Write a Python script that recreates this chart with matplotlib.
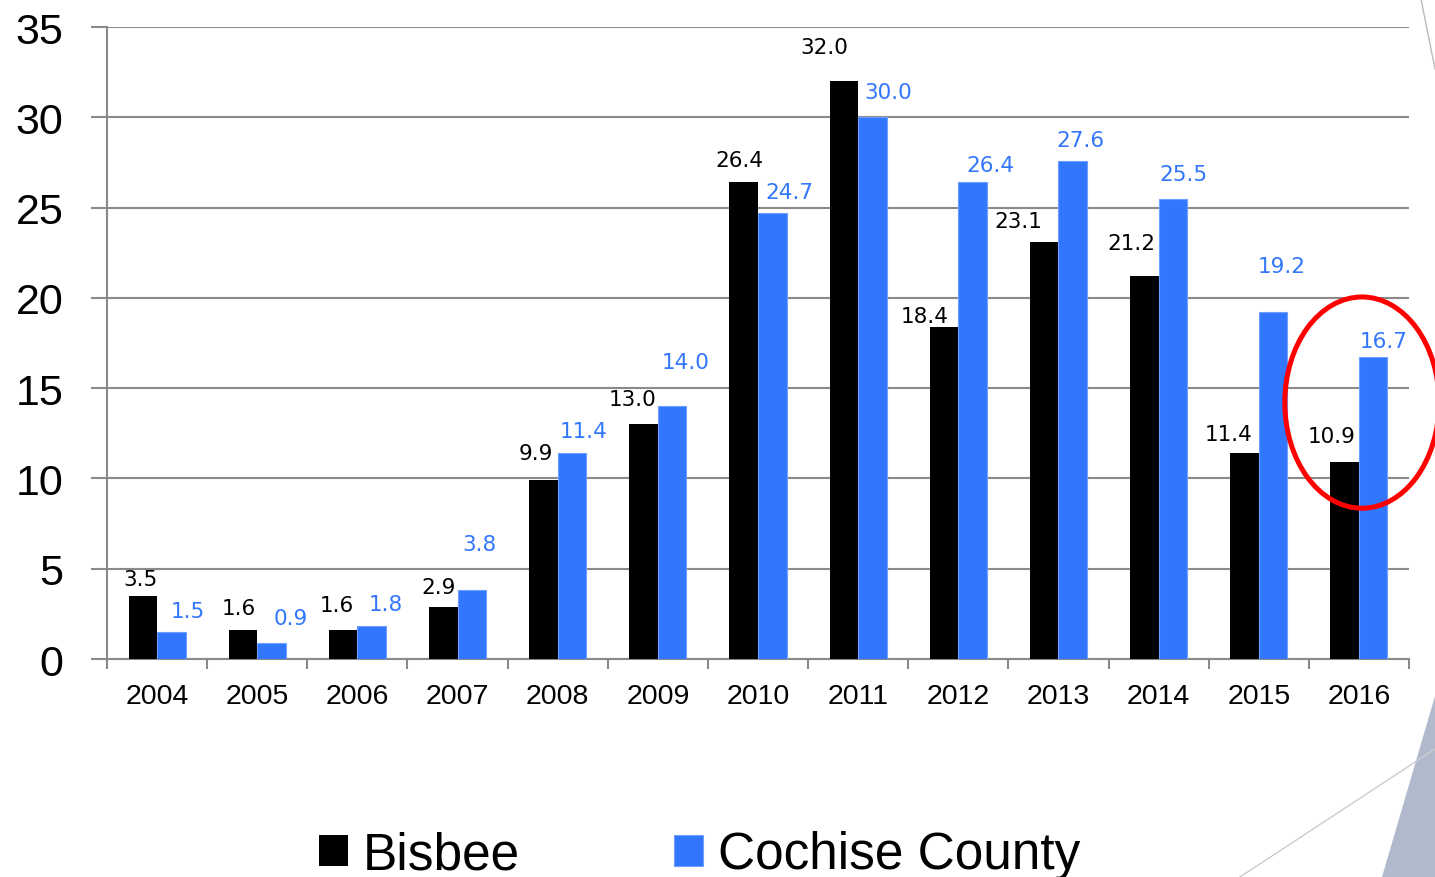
import numpy as np
import matplotlib.pyplot as plt
from matplotlib.patches import Ellipse, Polygon
from matplotlib.lines import Line2D

years = ['2004', '2005', '2006', '2007', '2008', '2009', '2010',
         '2011', '2012', '2013', '2014', '2015', '2016']
bisbee = [3.5, 1.6, 1.6, 2.9, 9.9, 13.0, 26.4, 32.0, 18.4, 23.1, 21.2, 11.4, 10.9]
cochise = [1.5, 0.9, 1.8, 3.8, 11.4, 14.0, 24.7, 30.0, 26.4, 27.6, 25.5, 19.2, 16.7]

# hand placed label offsets (pixels) as in the original slide
bis_dx = [-2, -4, -6, -5, -8, -11, -4, -20, -19, -26, -13, -16, -13]
bis_dy = [17, 22, 25, 20, 27, 25, 22, 34, 11, 21, 33, 19, 26]
coc_dx = [16, 19, 14, 8, 12, 14, 17, 16, 18, 8, 11, 9, 10]
coc_dy = [21, 25, 22, 46, 22, 44, 21, 25, 17, 21, 25, 46, 16]

BLUE = '#3176fc'
GRID = '#8a8a8a'

fig = plt.figure(figsize=(14.35, 8.78), dpi=100)
ax = fig.add_axes([107/1435, 1-660/878, (1409-107)/1435, (660-28)/878])

x = np.arange(len(years))
w = 0.285
ax.bar(x - w/2, bisbee, w, color='black', label='Bisbee', zorder=3)
ax.bar(x + w/2, cochise, w, color=BLUE, edgecolor='#6e9eff', linewidth=0.8,
       label='Cochise County', zorder=3)

for i in range(len(years)):
    ax.annotate('%.1f' % bisbee[i], (x[i] - w/2, bisbee[i]),
                xytext=(bis_dx[i], bis_dy[i]), textcoords='offset pixels',
                ha='center', va='center', fontsize=15.5, color='black',
                family='DejaVu Sans', zorder=4)
    ax.annotate('%.1f' % cochise[i], (x[i] + w/2, cochise[i]),
                xytext=(coc_dx[i], coc_dy[i]), textcoords='offset pixels',
                ha='center', va='center', fontsize=15.5, color=BLUE,
                family='DejaVu Sans', zorder=4)

ax.set_xlim(-0.5, len(years) - 0.5)
ax.set_ylim(0, 35)
ax.set_yticks(range(0, 36, 5))
ax.grid(axis='y', color=GRID, linewidth=1.5, zorder=0)
ax.tick_params(axis='y', length=11.5, width=1.5, color=GRID, pad=20, labelsize=31)
for t in ax.get_yticklabels():
    t.set_family('Liberation Sans')

ax.set_xticks(np.arange(-0.5, len(years)), minor=False)
ax.set_xticklabels([])
ax.set_xticks(x, minor=True)
ax.set_xticklabels(years, minor=True, fontsize=20.5, family='Liberation Sans')
ax.tick_params(axis='x', which='major', length=7, width=1.5, color=GRID)
ax.tick_params(axis='x', which='minor', length=0, pad=17)

for s in ['top', 'right']:
    ax.spines[s].set_visible(False)
for s in ['left', 'bottom']:
    ax.spines[s].set_color(GRID)
    ax.spines[s].set_linewidth(1.5)

# red circle around 2016
ax.add_patch(Ellipse((12.03, 14.2), 1.54, 11.7, fill=False, edgecolor='red',
                     linewidth=3.6, clip_on=False, zorder=5))

fig.legend(loc='center', bbox_to_anchor=(700/1435, 1-856/878), ncol=2,
           frameon=False, prop={'family': 'Liberation Sans', 'size': 37},
           handlelength=0.55, handleheight=0.55, handletextpad=0.3,
           columnspacing=3.0)

# slide decoration on the right edge
fig.add_artist(Polygon([(1, 1-697/878), (1382/1435, 0), (1, 0)],
                       closed=True, transform=fig.transFigure,
                       facecolor='#b1b9cd', edgecolor='none'))
fig.add_artist(Line2D([1240/1435, 1], [0, 1-750/878], transform=fig.transFigure,
                      color='#cccccc', linewidth=1))
fig.add_artist(Line2D([1421/1435, 1], [1, 1-70/878], transform=fig.transFigure,
                      color='#bbbbbb', linewidth=1))

fig.savefig('out.png', dpi=100)
